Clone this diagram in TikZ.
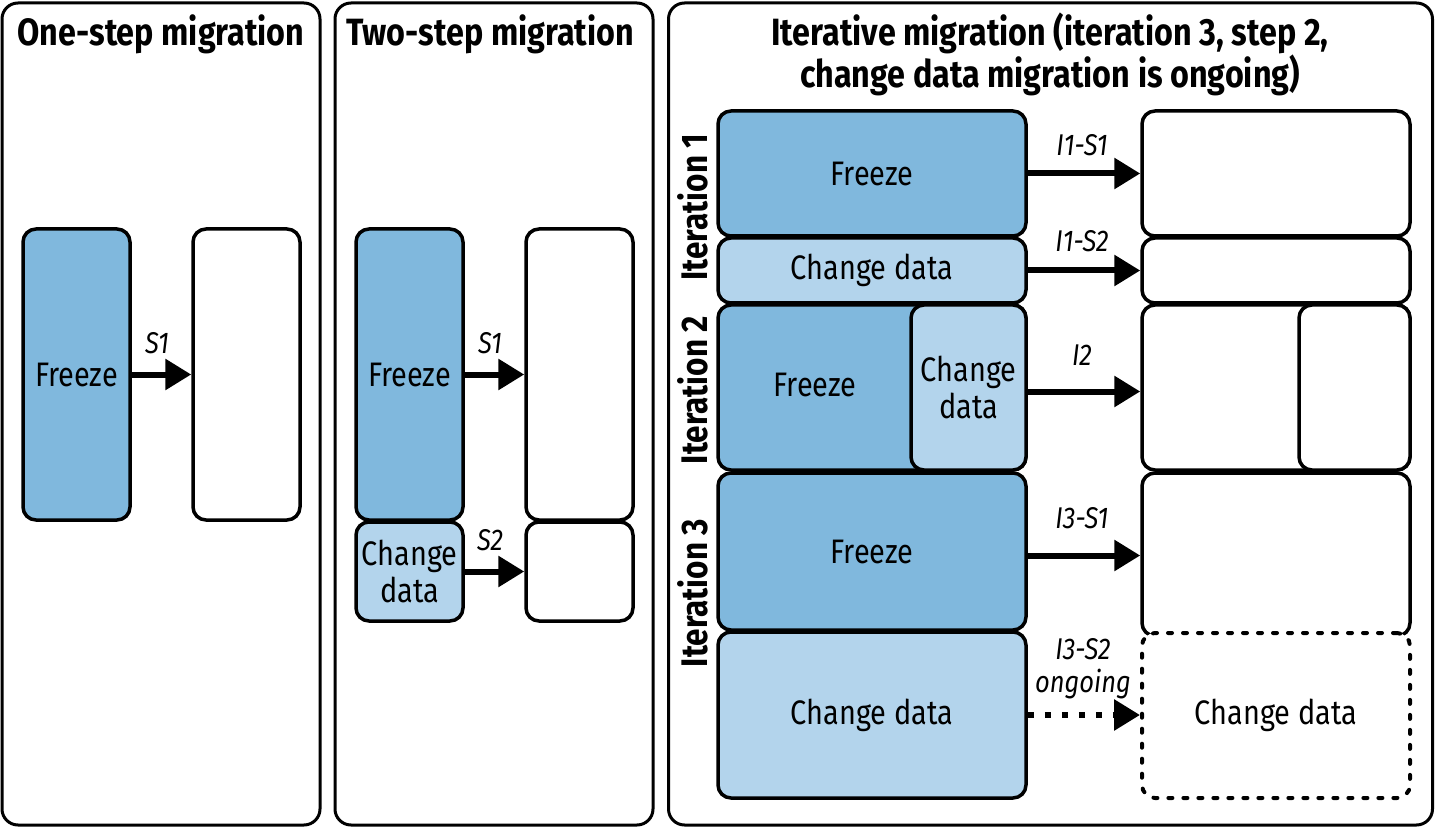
\documentclass[tikz,border=0pt]{standalone}
\usepackage{fontspec}
\setmainfont[FakeStretch=0.85]{Fira Sans}
\usetikzlibrary{arrows.meta}
\definecolor{dk}{RGB}{128,184,221}
\definecolor{lt}{RGB}{179,212,236}
\tikzset{
  bx/.style={draw=black, line width=3.5pt, rounded corners=13pt, inner sep=0pt, align=center,
    font=\fontsize{34}{37}\selectfont},
  dkbox/.style={bx, fill=dk},
  ltbox/.style={bx, fill=lt},
  wbox/.style={bx, fill=white},
  panel/.style={draw=black, line width=3pt, rounded corners=16pt, inner sep=0pt},
  ttl/.style={font=\bfseries\fontsize{38}{41}\selectfont, align=center, inner sep=0pt},
  itl/.style={font=\bfseries\fontsize{37}{38}\selectfont, rotate=90, inner sep=0pt},
  lbl/.style={font=\itshape\fontsize{30}{33}\selectfont, align=center, inner sep=0pt},
  arr/.style={line width=6pt, -{Triangle[length=26pt,width=30pt]}},
  darr/.style={line width=6pt, dash pattern=on 6pt off 11pt, -{Triangle[length=26pt,width=30pt]}},
}
\begin{document}
\begin{tikzpicture}[x=1pt,y=-1pt]
\useasboundingbox (0,0) rectangle (1436,829);
% panels
\node[panel, minimum width=318, minimum height=822] (p1) at (161,414) {};
\node[panel, minimum width=318, minimum height=822] (p2) at (494,414) {};
\node[panel, minimum width=764, minimum height=822] (p3) at (1050.5,414) {};
\node[ttl] (t1) at (161,34) {One-step migration};
\node[ttl] (t2) at (490,34) {Two-step migration};
\node[ttl] (t3) at (1050,54) {Iterative migration (iteration 3, step 2,\\change data migration is ongoing)};
% panel 1
\node[dkbox, minimum width=107, minimum height=291] (f1) at (76.5,374.5) {Freeze};
\node[wbox, minimum width=107, minimum height=291] (w1) at (246.5,374.5) {};
\draw[arr] (f1.east) -- (w1.west);
\node[lbl] (s1a) at (157,343) {S1};
% panel 2
\node[dkbox, minimum width=107, minimum height=291] (f2) at (409.5,374.5) {Freeze};
\node[ltbox, minimum width=107, minimum height=99] (c2) at (409.5,571.5) {Change\\data};
\node[wbox, minimum width=107, minimum height=291] (w2a) at (579.5,374.5) {};
\node[wbox, minimum width=107, minimum height=99] (w2b) at (579.5,571.5) {};
\draw[arr] (f2.east) -- (w2a.west);
\draw[arr] (c2.east) -- (w2b.west);
\node[lbl] (s1b) at (490,343) {S1};
\node[lbl] (s2b) at (490,540) {S2};
% panel 3 left
\node[dkbox, minimum width=308, minimum height=125] (a1) at (872,173.5) {Freeze};
\node[ltbox, minimum width=308, minimum height=65] (b1) at (872,270.5) {Change data};
\node[dkbox, minimum width=308, minimum height=165] (a2) at (872,387.5) {};
\node[inner sep=0pt, font=\fontsize{34}{37}\selectfont] (a2t) at (815,385) {Freeze};
\node[ltbox, minimum width=115, minimum height=165] (b2) at (968.5,387.5) {Change\\data};
\node[dkbox, minimum width=308, minimum height=157] (a3) at (872,551.5) {Freeze};
\node[ltbox, minimum width=308, minimum height=166] (b3) at (872,715) {Change data};
% panel 3 right
\node[wbox, minimum width=268, minimum height=125] (r1) at (1276,173.5) {};
\node[wbox, minimum width=268, minimum height=65] (r2) at (1276,270.5) {};
\node[wbox, minimum width=268, minimum height=165] (r3) at (1276,387.5) {};
\node[wbox, minimum width=111, minimum height=165] (r3b) at (1354.5,387.5) {};
\node[wbox, minimum width=268, minimum height=163] (r4) at (1276,554.5) {};
\node[wbox, minimum width=268, minimum height=165, line width=4pt, dash pattern=on 4pt off 11pt, line cap=round] (r5) at (1276,715.5) {Change data};
% iteration labels
\node[itl] (i1) at (693,207) {Iteration 1};
\node[itl] (i2) at (693,390) {Iteration 2};
\node[itl] (i3) at (693,593) {Iteration 3};
% arrows
\draw[arr] (a1.east) -- (a1.east -| r1.west);
\draw[arr] (b1.east) -- (b1.east -| r2.west);
\draw[arr] ([yshift=-4pt]b2.east) -- ([yshift=-4pt]b2.east -| r3.west);
\draw[arr] ([yshift=-4pt]a3.east) -- ([yshift=-4pt]a3.east -| r4.west);
\draw[darr] (b3.east) -- (b3.east -| r5.west);
\node[lbl] (l1) at (1082,145) {I1-S1};
\node[lbl] (l2) at (1082,241) {I1-S2};
\node[lbl] (l3) at (1082,355) {I2};
\node[lbl] (l4) at (1082,518) {I3-S1};
\node[lbl] (l5) at (1083,669) {I3-S2\\ongoing};
\end{tikzpicture}
\end{document}
